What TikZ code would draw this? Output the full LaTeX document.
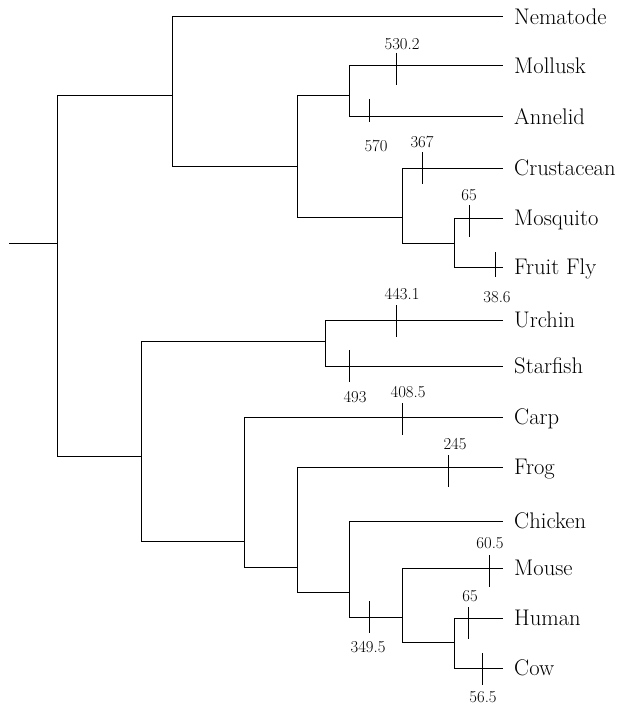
\documentclass[tikz,border=0pt]{standalone}
\begin{document}
\begin{tikzpicture}[x=1pt,y=-1pt,
  branch/.style={line width=1pt,black},
  tick/.style={line width=0.8pt,black},
  leaf/.style={anchor=west,inner xsep=11pt,inner ysep=0pt,text height=15.4pt,text depth=0pt,font=\fontsize{22.6}{26}\selectfont},
  num/.style={inner sep=0pt,font=\fontsize{16.7}{19}\selectfont}]
\useasboundingbox (0,0) rectangle (635,706);
% internal nodes (join points)
\coordinate (stub) at (9,243);
\coordinate (root) at (57,243);
\coordinate (n1) at (172,96);
\coordinate (n2) at (297,166);
\coordinate (n3) at (349,96);
\coordinate (n4) at (402,217);
\coordinate (n5) at (454,243);
\coordinate (n6) at (141,456);
\coordinate (n7) at (325,341);
\coordinate (n8) at (244,541);
\coordinate (n9) at (297,567);
\coordinate (n10) at (349,592);
\coordinate (n11) at (402,617);
\coordinate (n12) at (454,642);
% leaves
\node[leaf] (nem) at (503,17) {Nematode};
\node[leaf] (mol) at (503,66) {Mollusk};
\node[leaf] (ann) at (503,117) {Annelid};
\node[leaf] (cru) at (503,168) {Crustacean};
\node[leaf] (mos) at (503,218) {Mosquito};
\node[leaf] (ffl) at (503,267) {Fruit Fly};
\node[leaf] (urc) at (503,320) {Urchin};
\node[leaf] (sta) at (503,366) {Starfish};
\node[leaf] (car) at (503,417) {Carp};
\node[leaf] (fro) at (503,467) {Frog};
\node[leaf] (chi) at (503,521) {Chicken};
\node[leaf] (mou) at (503,568) {Mouse};
\node[leaf] (hum) at (503,618) {Human};
\node[leaf] (cow) at (503,668) {Cow};
% branches
\draw[branch] (stub) -- (root);
\draw[branch] (root) |- (n1);
\draw[branch] (root) |- (n6);
\draw[branch] (n1) |- (nem.west);
\draw[branch] (n1) |- (n2);
\draw[branch] (n2) |- (n3);
\draw[branch] (n2) |- (n4);
\draw[branch] (n3) |- (mol.west);
\draw[branch] (n3) |- (ann.west);
\draw[branch] (n4) |- (cru.west);
\draw[branch] (n4) |- (n5);
\draw[branch] (n5) |- (mos.west);
\draw[branch] (n5) |- (ffl.west);
\draw[branch] (n6) |- (n7);
\draw[branch] (n6) |- (n8);
\draw[branch] (n7) |- (urc.west);
\draw[branch] (n7) |- (sta.west);
\draw[branch] (n8) |- (car.west);
\draw[branch] (n8) |- (n9);
\draw[branch] (n9) |- (fro.west);
\draw[branch] (n9) |- (n10);
\draw[branch] (n10) |- (chi.west);
\draw[branch] (n10) |- (n11);
\draw[branch] (n11) |- (mou.west);
\draw[branch] (n11) |- (n12);
\draw[branch] (n12) |- (hum.west);
\draw[branch] (n12) |- (cow.west);
% ticks
\draw[tick] (396,53) -- (396,85);
\draw[tick] (369,99) -- (369,122);
\draw[tick] (422,152) -- (422,184);
\draw[tick] (469,205) -- (469,237);
\draw[tick] (495,252) -- (495,277);
\draw[tick] (396,305) -- (396,337);
\draw[tick] (349,350) -- (349,382);
\draw[tick] (402,403) -- (402,435);
\draw[tick] (448,455) -- (448,487);
\draw[tick] (489,555) -- (489,587);
\draw[tick] (468,607) -- (468,639);
\draw[tick] (482,653) -- (482,685);
\draw[tick] (369,601) -- (369,633);
% tick labels
\node[num] (l1) at (402,44) {530.2};
\node[num] (l2) at (376,146) {570};
\node[num] (l3) at (422,142) {367};
\node[num] (l4) at (469,195) {65};
\node[num] (l5) at (497,297) {38.6};
\node[num] (l6) at (402,294) {443.1};
\node[num] (l7) at (355,397) {493};
\node[num] (l8) at (408,392) {408.5};
\node[num] (l9) at (455,444) {245};
\node[num] (l10) at (490,543) {60.5};
\node[num] (l11) at (470,596) {65};
\node[num] (l12) at (368,647) {349.5};
\node[num] (l13) at (483,697) {56.5};
\end{tikzpicture}
\end{document}
